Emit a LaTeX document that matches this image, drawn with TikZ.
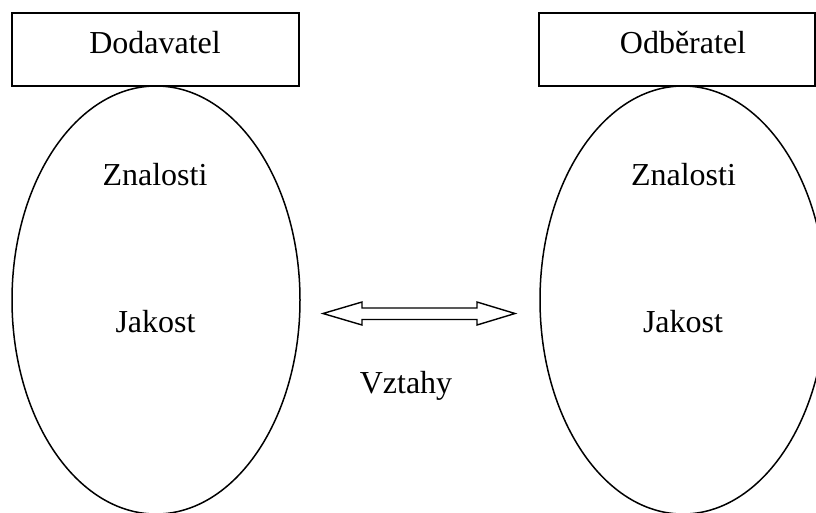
\documentclass[tikz,border=0pt]{standalone}
\usepackage{fontspec}
\setmainfont{Liberation Serif}
\usetikzlibrary{shapes.geometric}
\begin{document}
\begin{tikzpicture}[x=1pt,y=-1pt,
  lbl/.style={anchor=base,inner sep=0pt,font=\fontsize{32}{38}\selectfont},
  partybox/.style={draw,line width=1.4pt,rectangle,inner sep=0pt},
  oval/.style={draw,line width=1.5pt,ellipse,inner sep=0pt}]
  \useasboundingbox (0,0) rectangle (816,512);
  \clip (0,0) rectangle (816,512);

  % party headers
  \node[partybox,minimum width=287pt,minimum height=73pt] (boxL) at (155.5,49.5) {};
  \node[partybox,minimum width=276pt,minimum height=73pt] (boxR) at (677,49.5) {};
  \node[lbl] (tL) at (155,53) {Dodavatel};
  \node[lbl] (tR) at (683,53) {Odběratel};

  % ellipses hanging below the headers
  \node[oval,minimum width=288pt,minimum height=428pt] (ovL) at (156,300) {};
  \node[oval,minimum width=286pt,minimum height=428pt] (ovR) at (683,300) {};

  \node[lbl] (zL) at (155,185) {Znalosti};
  \node[lbl] (zR) at (683.5,185) {Znalosti};
  \node[lbl] (jL) at (155.5,332) {Jakost};
  \node[lbl] (jR) at (683,332) {Jakost};

  % hollow double-headed arrow
  \coordinate (aL) at (323,313.5);
  \coordinate (aR) at (515,313.5);
  \draw[line width=1.4pt,line join=miter]
    (aL) -- (362,302) -- (362,308) -- (477,308) -- (477,302) -- (aR)
    -- (477,325) -- (477,319.5) -- (362,319.5) -- (362,325) -- cycle;
  \node[lbl] (rel) at (406,393) {Vztahy};
\end{tikzpicture}
\end{document}
